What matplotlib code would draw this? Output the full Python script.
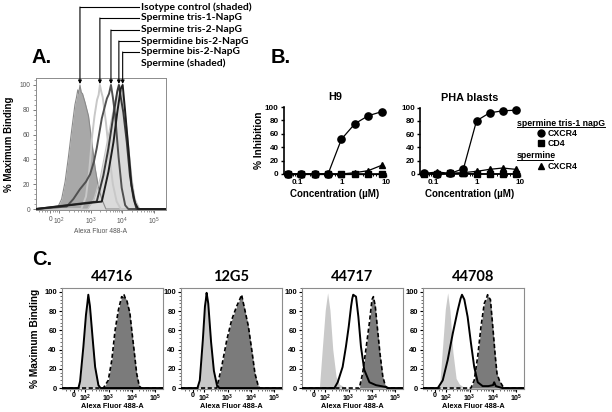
import matplotlib
matplotlib.use('Agg')
import matplotlib.pyplot as plt
import numpy as np
from matplotlib.lines import Line2D
from matplotlib.patches import FancyArrowPatch
from matplotlib.ticker import FixedLocator, MultipleLocator, NullFormatter, LogLocator

plt.rcParams['font.family'] = ['Liberation Sans', 'DejaVu Sans']
plt.rcParams['mathtext.fontset'] = 'custom'
plt.rcParams['mathtext.rm'] = 'Liberation Sans'
plt.rcParams['mathtext.it'] = 'Liberation Sans'
plt.rcParams['mathtext.bf'] = 'Liberation Sans:bold'

W, H = 612, 412

# ---------------- Panel A data (x = log10 fluorescence, y = % max) ----------------
a_labels = ["Isotype control (shaded)", "Spermine tris-1-NapG", "Spermine tris-2-NapG",
            "Spermidine bis-2-NapG", "Spermine bis-2-NapG", "Spermine (shaded)"]
iso_x = [1.93, 2.08, 2.19, 2.29, 2.40, 2.50, 2.55, 2.59, 2.62, 2.66, 2.70, 2.74, 2.82, 2.93, 3.03, 3.14, 3.24, 3.35, 3.48]
iso_y = [0, 8, 22, 41, 64, 84, 90, 96, 93, 100, 94, 93, 86, 75, 55, 33, 18, 8, 0]
spm_x = [2.90, 3.10, 3.30, 3.45, 3.60, 3.75, 3.85, 3.92, 4.00, 4.10, 4.20, 4.30, 4.40, 4.55]
spm_y = [0, 8, 25, 45, 65, 85, 95, 100, 92, 75, 50, 25, 8, 0]
tris1_x = [2.70, 2.85, 2.95, 3.05, 3.12, 3.20, 3.25, 3.29, 3.33, 3.38, 3.48, 3.58, 3.70, 3.82, 3.95]
tris1_y = [0, 10, 30, 60, 75, 88, 92, 100, 95, 90, 70, 45, 20, 6, 0]
tris2_x = [2.24, 2.45, 2.66, 2.85, 2.98, 3.10, 3.19, 3.35, 3.51, 3.58, 3.64, 3.70, 3.77, 3.88, 3.98, 4.09, 4.19]
tris2_y = [2, 8, 16, 22, 28, 38, 49, 73, 89, 93, 100, 90, 76, 42, 17, 3, 0]
spd_x = [3.19, 3.40, 3.56, 3.72, 3.84, 3.89, 3.95, 4.03, 4.14, 4.24, 4.35, 4.45]
spd_y = [6, 27, 49, 76, 95, 100, 90, 78, 54, 27, 9, 0]
spmbis_x = [3.35, 3.56, 3.72, 3.84, 3.95, 4.01, 4.08, 4.19, 4.29, 4.40, 4.50]
spmbis_y = [6, 30, 54, 78, 97, 100, 81, 49, 19, 5, 0]

# ---------------- Panel B data ----------------
conc = [0.0625, 0.125, 0.25, 0.5, 1, 2, 4, 8]
h9_tris_cxcr4 = [0, 0, 0, 0, 52, 75, 87, 93]
h9_tris_cd4 = [0, 0, 0, 0, 0, 0, 0, 0]
h9_spm_cxcr4 = [0, 0, 0, 0, 0, 2, 5, 13]
pha_tris_cxcr4 = [1, 0, 1, 8, 80, 92, 95, 96]
pha_tris_cd4 = [0, 0, 1, 1, 0, 0, 0, 0]
pha_spm_cxcr4 = [1, 3, 1, 2, 4, 7, 9, 7]

# ---------------- Panel C data ----------------
c_titles = ["44716", "12G5", "44717", "44708"]
c_light_x = [[1.70, 1.80, 1.93, 2.04, 2.10, 2.13, 2.21, 2.33, 2.45, 2.60],
             [1.72, 1.82, 1.95, 2.04, 2.11, 2.18, 2.30, 2.42, 2.55, 2.65],
             [1.76, 1.90, 2.01, 2.11, 2.21, 2.33, 2.47, 2.61, 2.82, 2.95],
             [1.72, 1.86, 1.97, 2.07, 2.17, 2.29, 2.43, 2.57, 2.75, 2.90]]
c_light_y = [[0, 8, 45, 78, 90, 99, 86, 50, 20, 0],
             [0, 8, 50, 85, 99, 88, 48, 18, 3, 0],
             [0, 46, 81, 99, 81, 40, 12, 4, 1, 0],
             [0, 45, 82, 99, 80, 38, 10, 4, 1, 0]]
c_solid_x = [[1.72, 1.79, 1.93, 2.04, 2.10, 2.14, 2.21, 2.33, 2.43, 2.57, 2.66],
             [1.72, 1.82, 1.95, 2.04, 2.08, 2.11, 2.18, 2.30, 2.42, 2.55, 2.65],
             [2.40, 2.54, 2.75, 2.89, 3.01, 3.11, 3.16, 3.20, 3.26, 3.32, 3.42, 3.53, 3.67, 3.89, 4.17, 4.60, 4.70],
             [1.65, 1.86, 2.07, 2.29, 2.50, 2.62, 2.68, 2.72, 2.78, 2.92, 3.06, 3.20, 3.35, 3.56, 3.80, 4.00, 4.05, 4.12, 4.40]]
c_solid_y = [[0, 7, 43, 76, 88, 97, 85, 50, 22, 3, 0],
             [0, 8, 50, 85, 92, 99, 88, 48, 18, 3, 0],
             [0, 6, 22, 43, 64, 85, 93, 97, 96, 95, 74, 43, 19, 6, 3, 1, 0],
             [0, 8, 29, 57, 81, 93, 97, 95, 92, 74, 47, 22, 6, 2, 2, 3, 6, 2, 0]]
c_dark_x = [[2.78, 2.99, 3.14, 3.28, 3.42, 3.56, 3.62, 3.66, 3.72, 3.77, 3.91, 3.99, 4.09, 4.20, 4.31, 4.40],
            [2.54, 2.75, 2.97, 3.18, 3.39, 3.52, 3.60, 3.66, 3.74, 3.89, 4.03, 4.17, 4.31, 4.38],
            [3.46, 3.60, 3.74, 3.89, 4.00, 4.06, 4.14, 4.24, 4.34, 4.46, 4.57, 4.65],
            [3.06, 3.20, 3.35, 3.49, 3.63, 3.72, 3.77, 3.83, 3.89, 3.99, 4.09, 4.17, 4.27, 4.41, 4.50]]
c_dark_y = [[0, 8, 29, 60, 81, 95, 94, 97, 93, 92, 78, 60, 39, 15, 2, 0],
            [0, 22, 50, 71, 85, 92, 97, 90, 81, 64, 40, 15, 2, 0],
            [0, 15, 40, 68, 92, 95, 85, 60, 36, 12, 2, 0],
            [0, 8, 33, 64, 88, 93, 97, 94, 92, 64, 35, 15, 8, 2, 0]]

# ---------------- helpers ----------------
fig = plt.figure(figsize=(W / 100, H / 100), dpi=100)


def box(l, t, r, b):
    return [l / W, 1 - b / H, (r - l) / W, (b - t) / H]


def close_hist(x, y, lo, hi):
    return [lo] + list(x) + [hi], [0] + list(y) + [0]


# ---------------- Panel A ----------------
axA = fig.add_axes(box(36, 78, 166, 210))
A_LO, A_HI = 1.27, 5.38
axA.set_xlim(A_LO, A_HI)
axA.set_ylim(-0.8, 105.6)
x, y = close_hist(iso_x, iso_y, A_LO, A_HI)
axA.fill_between(x, y, 0, color='#a8a8a8', lw=0, zorder=1)
axA.plot(x, y, color='#8a8a8a', lw=0.8, zorder=2)
x, y = close_hist(spm_x, spm_y, A_LO, A_HI)
axA.fill_between(x, y, 0, color='#dadada', lw=0, zorder=1)
axA.plot(x, y, color='#c4c4c4', lw=0.8, zorder=2)
for xs, ys, c in [(tris1_x, tris1_y, '#c8c8c8'), (tris2_x, tris2_y, '#505050'),
                  (spd_x, spd_y, '#383838'), (spmbis_x, spmbis_y, '#1e1e1e')]:
    x, y = close_hist(xs, ys, A_LO, A_HI)
    axA.plot(x, y, color=c, lw=1.4, zorder=3)
for s in axA.spines.values():
    s.set_color('#8c8c8c')
    s.set_linewidth(0.7)
axA.set_xticks([1.72, 2, 3, 4, 5])
axA.set_xticklabels(['0', r'$10^2$', r'$10^3$', r'$10^4$', r'$10^5$'])
a_minor = [np.log10(k * 10 ** d) for d in (2, 3, 4) for k in range(2, 10)] + [1.35, 1.45, 1.55, 1.63, 1.80, 1.87, 1.94]
axA.xaxis.set_minor_locator(FixedLocator([m for m in a_minor if A_LO < m < A_HI]))
axA.set_yticks([0, 20, 40, 60, 80, 100])
axA.yaxis.set_minor_locator(MultipleLocator(4))
axA.tick_params(which='major', length=2.5, width=0.6, color='#666666', labelsize=4.8, labelcolor='#555555', pad=1.5)
axA.tick_params(which='minor', length=1.3, width=0.5, color='#777777')
axA.set_xlabel('Alexa Fluor 488-A', fontsize=4.8, color='#555555', labelpad=1)
fig.text(9 / W, 1 - 144 / H, '% Maximum Binding', rotation=90, fontsize=7, fontweight='bold',
         ha='center', va='center')

# arrows and labels
label_y = [7, 18, 30, 41, 52, 63]
peaks = [iso_x[int(np.argmax(iso_y))], tris1_x[int(np.argmax(tris1_y))], tris2_x[int(np.argmax(tris2_y))],
         spd_x[int(np.argmax(spd_y))], spmbis_x[int(np.argmax(spmbis_y))]]
inv = fig.transFigure.inverted()
for lab, ly in zip(a_labels, label_y):
    fig.text(141 / W, 1 - ly / H, lab, fontsize=7.4, fontweight='bold', family=['Lato', 'DejaVu Sans'],
             ha='left', va='center')
for pk, ly in zip(peaks, label_y):
    dx = axA.transData.transform((pk, 0))[0]
    fx = inv.transform((dx, 0))[0]
    fig.add_artist(Line2D([fx, 139 / W], [1 - ly / H, 1 - ly / H], color='black', lw=0.8,
                          transform=fig.transFigure))
    fig.add_artist(FancyArrowPatch((fx, 1 - ly / H), (fx, 1 - 84 / H), transform=fig.transFigure,
                                   arrowstyle='-|>', mutation_scale=5, lw=0.8, color='black',
                                   shrinkA=0, shrinkB=0))

# panel letters
fig.text(32 / W, 1 - 63 / H, 'A.', fontsize=14.5, fontweight='bold', ha='left', va='baseline')
fig.text(271 / W, 1 - 63 / H, 'B.', fontsize=14.5, fontweight='bold', ha='left', va='baseline')
fig.text(32 / W, 1 - 265 / H, 'C.', fontsize=14.5, fontweight='bold', ha='left', va='baseline')


# ---------------- Panel B ----------------
def prism(ax, title, circ, sq, tri, ylabel):
    ax.plot(conc, circ, color='black', lw=0.9, marker='o', ms=5.2, zorder=4, clip_on=False)
    ax.plot(conc, sq, color='black', lw=0.9, marker='s', ms=4.6, zorder=3, clip_on=False)
    ax.plot(conc, tri, color='black', lw=0.9, marker='^', ms=4.8, zorder=5, clip_on=False)
    ax.set_xscale('log')
    ax.set_xlim(0.05, 10)
    ax.set_ylim(0, 100)
    ax.spines['top'].set_visible(False)
    ax.spines['right'].set_visible(False)
    for s in ('left', 'bottom'):
        ax.spines[s].set_linewidth(1.2)
    ax.set_xticks([0.1, 1, 10])
    ax.set_xticklabels(['0.1', '1', '10'])
    ax.xaxis.set_minor_locator(LogLocator(base=10, subs=np.arange(2, 10)))
    ax.xaxis.set_minor_formatter(NullFormatter())
    ax.set_yticks([0, 20, 40, 60, 80, 100])
    ax.tick_params(which='major', length=2.5, width=1, labelsize=5.8, pad=1)
    ax.tick_params(which='minor', length=1.5, width=0.7)
    for t in ax.get_xticklabels() + ax.get_yticklabels():
        t.set_fontweight('bold')
    ax.set_title(title, fontsize=7.8, fontweight='bold', pad=5)
    ax.set_xlabel('Concentration (\u00b5M)', fontsize=7, fontweight='bold', labelpad=2)
    if ylabel:
        ax.set_ylabel('% Inhibition', fontsize=7.3, fontweight='bold', labelpad=1)


axH9 = fig.add_axes(box(283.5, 107, 386, 174))
prism(axH9, 'H9', h9_tris_cxcr4, h9_tris_cd4, h9_spm_cxcr4, True)
axPHA = fig.add_axes(box(420, 107.5, 520, 174))
prism(axPHA, 'PHA blasts', pha_tris_cxcr4, pha_tris_cd4, pha_spm_cxcr4, False)

# legend
leg_fs = 6.3
fig.text(517 / W, 1 - 123 / H, 'spermine tris-1 napG', fontsize=leg_fs, fontweight='bold', ha='left', va='center')
fig.add_artist(Line2D([517 / W, 605 / W], [1 - 127.5 / H] * 2, color='black', lw=0.7, transform=fig.transFigure))
fig.text(517 / W, 1 - 155 / H, 'spermine', fontsize=leg_fs, fontweight='bold', ha='left', va='center')
fig.add_artist(Line2D([517 / W, 553 / W], [1 - 159.5 / H] * 2, color='black', lw=0.7, transform=fig.transFigure))
for mk, ms, py, lab in [('o', 5.0, 133, 'CXCR4'), ('s', 4.4, 143, 'CD4'), ('^', 4.8, 166, 'CXCR4')]:
    fig.add_artist(Line2D([540.5 / W], [1 - py / H], marker=mk, ms=ms, color='black', lw=0,
                          transform=fig.transFigure))
    fig.text(547.5 / W, 1 - py / H, lab, fontsize=leg_fs, fontweight='bold', ha='left', va='center')

# ---------------- Panel C ----------------
C_LO, C_HI = 1.02, 5.32
c_lefts = [62, 181, 302, 423]
for i, l in enumerate(c_lefts):
    ax = fig.add_axes(box(l, 288, l + 101, 389))
    ax.set_xlim(C_LO, C_HI)
    ax.set_ylim(-1, 104)
    x, y = close_hist(c_light_x[i], c_light_y[i], C_LO, C_HI)
    ax.fill_between(x, y, 0, color='#c9c9c9', lw=0, zorder=1)
    x, y = close_hist(c_dark_x[i], c_dark_y[i], C_LO, C_HI)
    ax.fill_between(x, y, 0, color='#7b7b7b', lw=0, zorder=2)
    ax.plot(x, y, color='black', lw=1.2, ls=(0, (2.5, 1.5)), zorder=4)
    x, y = close_hist(c_solid_x[i], c_solid_y[i], C_LO, C_HI)
    ax.plot(x, y, color='black', lw=1.4, zorder=5)
    for s in ax.spines.values():
        s.set_color('#8c8c8c')
        s.set_linewidth(0.8)
    ax.set_xticks([1.53, 2, 3, 4, 5])
    ax.set_xticklabels(['0', r'$\mathbf{10^2}$', r'$\mathbf{10^3}$', r'$\mathbf{10^4}$', r'$\mathbf{10^5}$'])
    c_minor = [np.log10(k * 10 ** d) for d in (2, 3, 4) for k in range(2, 10)] + [1.2, 1.35, 1.68, 1.82]
    ax.xaxis.set_minor_locator(FixedLocator([m for m in c_minor if C_LO < m < C_HI]))
    ax.set_yticks([0, 20, 40, 60, 80, 100])
    ax.yaxis.set_minor_locator(MultipleLocator(4))
    ax.tick_params(axis='y', which='major', length=2.5, width=0.8, labelsize=5.5, pad=1.2)
    ax.tick_params(axis='x', which='major', length=2, width=0.8, labelsize=5.1, pad=0.4)
    ax.tick_params(which='minor', length=1.3, width=0.6, color='#555555')
    for t in ax.get_xticklabels() + ax.get_yticklabels():
        t.set_fontweight('bold')
    ax.set_xlabel('Alexa Fluor 488-A', fontsize=5.3, fontweight='bold')
    ax.xaxis.label.set_va('center')
    ax.xaxis.set_label_coords(0.5, -(406.5 - 389) / 101)
    ax.set_title(c_titles[i], fontsize=10.5, fontweight='bold', family=['Lato', 'DejaVu Sans'], pad=5)
    if i == 0:
        ax.set_ylabel('% Maximum Binding', fontsize=7.3, fontweight='bold', labelpad=3)

fig.savefig('out.png', dpi=100)
